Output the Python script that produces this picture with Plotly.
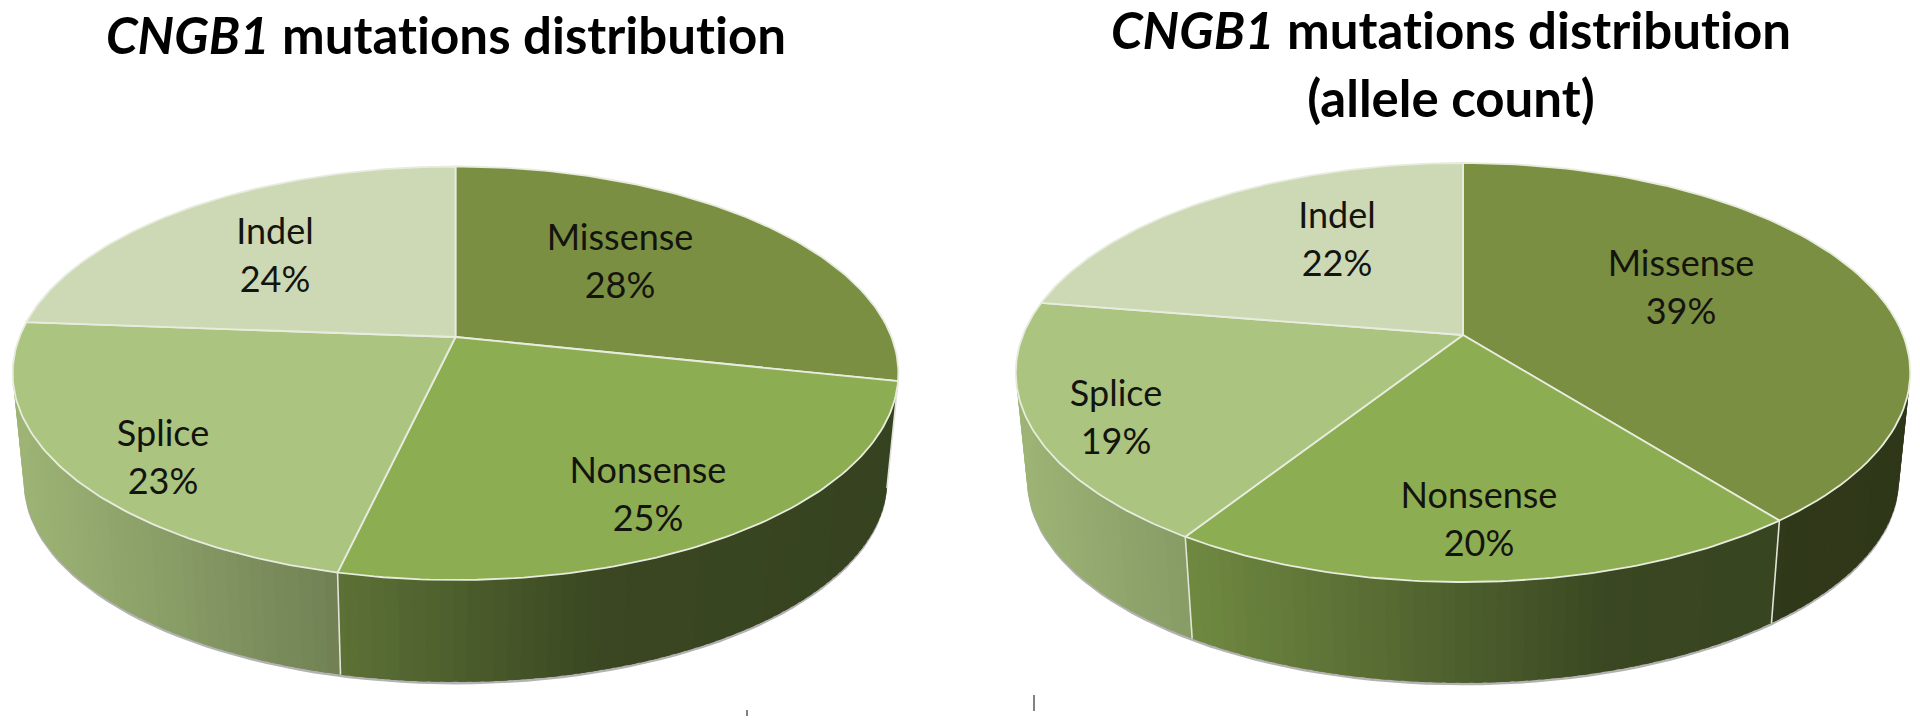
import numpy as np
import plotly.graph_objects as go

# ---- data ----
categories = ["Missense", "Nonsense", "Splice", "Indel"]
values_mutations = [28.4, 25.2, 22.6, 23.8]
values_alleles = [39.4, 19.6, 18.6, 22.4]
title_left = ["<b><i>CNGB1</i> mutations distribution</b>"]
title_right = ["<b><i>CNGB1</i> mutations distribution</b>", "<b>(allele count)</b>"]

# ---- style ----
top_colors = [(122, 143, 65), (141, 173, 82), (171, 196, 128), (205, 217, 181)]
shade_x = [-1.0, -0.62, -0.255, 0.33, 1.0]
shade_f = [0.92, 0.79, 0.65, 0.41, 0.385]
LABEL_FONT = 36
TITLE_FONT = 51
FONT = "Lato"

# pie geometry in page pixels
left_geo = dict(cx=455.5, cy=337, a=436, b=200.4, k=0.1753, depth=108, s=0.975)
right_geo = dict(cx=1463, cy=335, a=440, b=202.8, k=0.179, depth=107, s=0.975)
left_labels = [(620, 265), (648, 498), (163, 461), (275, 259)]
right_labels = [(1681, 291), (1479, 523), (1116, 421), (1337, 243)]
LINE_GAP = 24

fig = go.Figure()


def project(theta_deg, g, lower=False):
    t = np.radians(np.asarray(theta_deg, dtype=float))
    X, Y = np.sin(t), np.cos(t)
    den = 1 + g["k"] * Y
    u, v = g["a"] * X / den, g["b"] * Y / den
    if lower:
        return g["cx"] + g["s"] * u, g["cy"] + g["depth"] - g["s"] * v
    return g["cx"] + u, g["cy"] - v


def rgb(c, f=1.0):
    return "rgb(%d,%d,%d)" % tuple(round(x * f) for x in c)


def poly(x, y, fill, line=None, width=0.0):
    fig.add_trace(go.Scatter(x=list(x), y=list(y), mode="lines", fill="toself",
                             fillcolor=fill, hoverinfo="skip",
                             line=dict(color=line or fill, width=width)))


def draw_pie(values, g, labels):
    fracs = np.asarray(values, dtype=float) / sum(values)
    edges = np.concatenate([[0], np.cumsum(fracs)]) * 360

    # soft shadow round the lower rim
    th = np.arange(60, 301, 2.0)
    sx, sy = project(th, g, lower=True)
    poly(sx, sy + 2.5, "rgb(178,178,178)")

    # outer wall, split into small shaded strips that overlap their neighbour
    for i in range(len(values)):
        lo, hi = max(edges[i], 70), min(edges[i + 1], 290)
        if hi <= lo:
            continue
        steps = np.append(np.arange(lo, hi, 1.5), hi)
        for t0, t1 in zip(steps[:-1], steps[1:]):
            tail = min(t1 + 1.0, hi)
            x0, y0 = project([t0, tail], g)
            x1, y1 = project([tail, t0], g, lower=True)
            mid_x, _ = project([0.5 * (t0 + t1)], g)
            n = (mid_x[0] - g["cx"]) / (g["a"] * 1.016)
            f = np.interp(n, shade_x, shade_f)
            poly(np.r_[x0, x1], np.r_[y0, y1], rgb(top_colors[i], f))

    # seams on the wall
    for e in edges[1:-1]:
        if 90 < e < 270:
            xa, ya = project([e], g)
            xb, yb = project([e], g, lower=True)
            fig.add_trace(go.Scatter(x=[xa[0], xb[0]], y=[ya[0], yb[0]], mode="lines",
                                     hoverinfo="skip",
                                     line=dict(color="rgb(225,228,215)", width=1.6)))

    # top face
    for i in range(len(values)):
        th = np.linspace(edges[i], edges[i + 1], 90)
        x, y = project(th, g)
        poly(np.r_[g["cx"], x, g["cx"]], np.r_[g["cy"], y, g["cy"]],
             rgb(top_colors[i]), line="rgb(232,236,222)", width=1.8)

    # labels
    names_x, names_y, names = [], [], []
    for i, (lx, ly) in enumerate(labels):
        names_x += [lx, lx]
        names_y += [ly - LINE_GAP, ly + LINE_GAP]
        names += [categories[i], "%d%%" % round(values[i])]
    fig.add_trace(go.Scatter(x=names_x, y=names_y, text=names, mode="text",
                             textposition="middle center", hoverinfo="skip",
                             textfont=dict(family=FONT, size=LABEL_FONT, color="#14140f")))


draw_pie(values_mutations, left_geo, left_labels)
draw_pie(values_alleles, right_geo, right_labels)

# titles
fig.add_trace(go.Scatter(x=[446, 1451, 1451], y=[41, 36, 104],
                         text=title_left + title_right, mode="text",
                         textposition="middle center", hoverinfo="skip",
                         textfont=dict(family=FONT, size=TITLE_FONT, color="#000000")))

# two stray marks at the foot of the picture
fig.add_trace(go.Scatter(x=[747, 747, None, 1034, 1034], y=[710, 716, None, 695, 711],
                         mode="lines", hoverinfo="skip",
                         line=dict(color="rgb(130,130,130)", width=2)))

fig.update_layout(
    width=1920, height=726, margin=dict(l=0, r=0, t=0, b=0),
    showlegend=False, paper_bgcolor="white", plot_bgcolor="white",
    xaxis=dict(range=[0, 1920], visible=False, fixedrange=True),
    yaxis=dict(range=[726, 0], visible=False, fixedrange=True),
)
css = ("document.body.style.margin='0';"
       "var s=document.createElement('style');"
       "s.textContent='svg text,svg tspan{font-variant-ligatures:none !important;"
       "font-feature-settings:\"liga\" 0,\"clig\" 0 !important;letter-spacing:0.01px !important}';"
       "document.head.appendChild(s);")
fig.write_html("out.html", post_script=css, config={"displayModeBar": False})
